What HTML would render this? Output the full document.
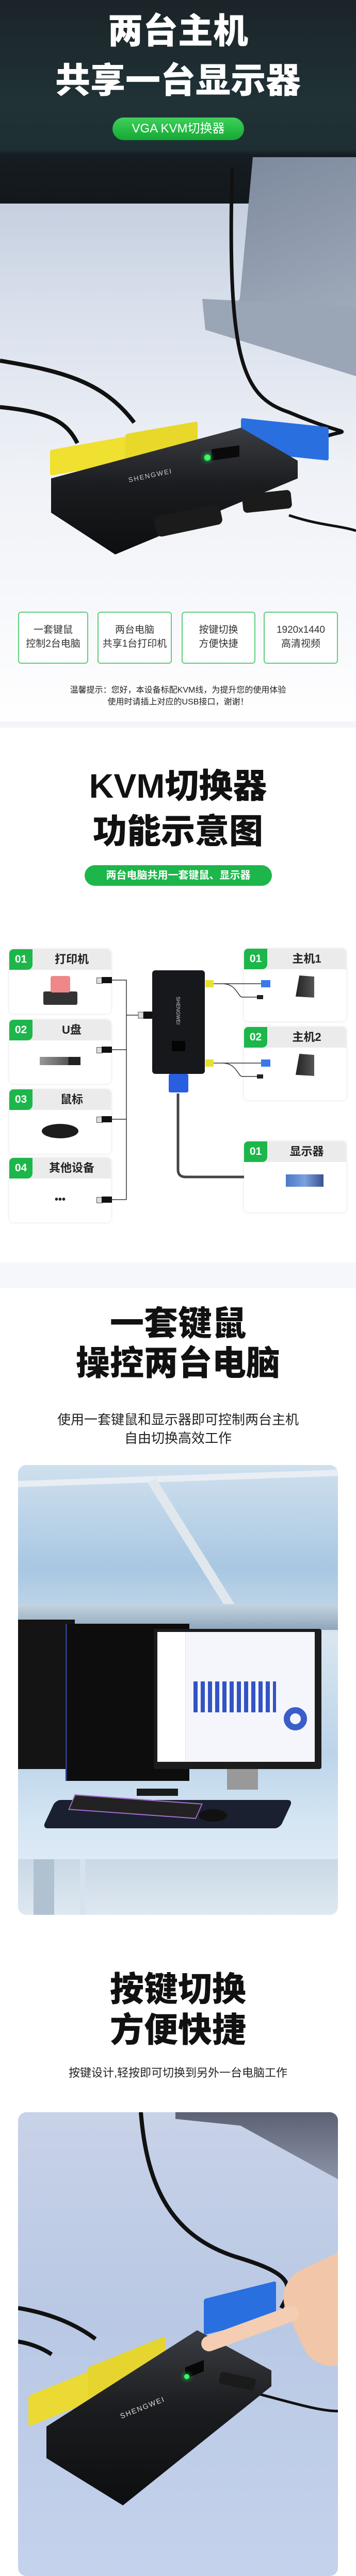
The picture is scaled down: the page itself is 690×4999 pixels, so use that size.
<!DOCTYPE html>
<html><head><meta charset="utf-8"><style>
*{margin:0;padding:0;box-sizing:border-box}
body{width:690px;height:4952px;position:relative;overflow:hidden;background:#fff;font-family:"Liberation Sans","Noto Sans CJK SC",sans-serif}
.a{position:absolute}
.t{position:absolute;left:0;width:690px;text-align:center;font-weight:900;white-space:nowrap}
.fb{position:absolute;top:1187px;height:101px;border:2px solid #5fce7a;border-radius:6px;background:#fff;text-align:center;font-size:19px;color:#333;line-height:27px;padding-top:20px}
.box{position:absolute;background:#fff;border-radius:8px;box-shadow:0 0 6px rgba(0,0,0,.12);overflow:hidden}
.box .h{height:40px;background:#ebebeb;font-size:22px;color:#222;line-height:40px;text-align:center;padding-left:45px;font-weight:bold}
.box .n{position:absolute;left:0;top:0;width:45px;height:40px;background:#1db64a;color:#fff;font-size:21px;font-weight:bold;line-height:40px;text-align:center;border-radius:0 0 10px 0}
.usb{position:absolute;width:30px;height:12px}
.usb:before{content:"";position:absolute;left:0;top:1px;width:10px;height:10px;background:#ddd;border:1px solid #555}
.usb:after{content:"";position:absolute;left:10px;top:0;width:20px;height:12px;background:#111}
</style></head><body>

<!-- HERO -->
<div class="a" style="left:0;top:0;width:690px;height:1420px;background:linear-gradient(180deg,#c5cfdf 390px,#d9e0ec 600px,#eef1f6 900px,#f7f8fb 1180px,#fff 1420px)"></div>
<div class="a" style="left:0;top:0;width:690px;height:395px;background:linear-gradient(180deg,#1b2428 0,#203236 200px,#1e2f33 290px,#161d22 300px,#12181c 395px)"></div>
<div class="a" style="left:440px;top:305px;width:250px;height:420px;background:linear-gradient(160deg,#7c889c,#aab4c4);clip-path:polygon(20% 0,100% 0,100% 100%,0 78%,10% 65%)"></div>
<div class="a" style="left:392px;top:580px;width:298px;height:150px;background:#9aa5b6;clip-path:polygon(0 0,100% 10%,100% 100%,2% 40%)"></div>
<svg class="a" style="left:0;top:300px" width="690" height="800">
<path d="M450 25 C440 400 470 470 560 500 C700 560 680 520 600 560" stroke="#111" stroke-width="7" fill="none"/>
<path d="M0 400 C120 420 200 440 260 520" stroke="#111" stroke-width="8" fill="none"/>
<path d="M0 490 C100 500 130 520 150 560" stroke="#111" stroke-width="8" fill="none"/>
<path d="M560 700 C620 720 660 720 690 730" stroke="#111" stroke-width="5" fill="none"/>
</svg>
<div class="a" style="left:97px;top:860px;width:150px;height:50px;background:#f0e030;transform:skewY(-10deg);border-radius:4px"></div>
<div class="a" style="left:243px;top:830px;width:140px;height:50px;background:#e8d82a;transform:skewY(-10deg);border-radius:4px"></div>
<div class="a" style="left:467px;top:820px;width:170px;height:65px;background:#2a6fe0;transform:skewY(6deg);border-radius:4px"></div>
<div class="a" style="left:99px;top:830px;width:478px;height:246px;background:linear-gradient(180deg,#3a3d42,#1b1c1f 45%,#0d0e10);clip-path:polygon(0 40%,77% 0,100% 26%,100% 40%,26% 100%,0 67%)"></div>
<div class="a" style="left:410px;top:868px;width:54px;height:22px;background:#0a0a0a;transform:skewY(-8deg)"></div>
<div class="a" style="left:396px;top:882px;width:12px;height:12px;border-radius:50%;background:#3f6;box-shadow:0 0 10px #3f6"></div>
<div class="a" style="left:248px;top:915px;color:#ccc;font-size:13px;letter-spacing:2px;transform:rotate(-12deg)">SHENGWEI</div>
<div class="a" style="left:300px;top:990px;width:130px;height:40px;background:#1b1b1b;border-radius:10px;transform:rotate(-12deg)"></div>
<div class="a" style="left:470px;top:955px;width:95px;height:36px;background:#1b1b1b;border-radius:8px;transform:rotate(-6deg)"></div>

<div class="t" style="top:26px;font-size:68px;line-height:70px;color:#fff">两台主机</div>
<div class="t" style="top:122px;font-size:68px;line-height:70px;color:#fff">共享一台显示器</div>
<div class="a" style="left:218px;top:228px;width:255px;height:44px;border-radius:22px;background:linear-gradient(180deg,#3ed05a,#14a834);color:#fff;font-size:24px;line-height:44px;text-align:center">VGA KVM切换器</div>

<div class="fb" style="left:35px;width:136px">一套键鼠<br>控制2台电脑</div>
<div class="fb" style="left:189px;width:144px">两台电脑<br>共享1台打印机</div>
<div class="fb" style="left:352px;width:143px">按键切换<br>方便快捷</div>
<div class="fb" style="left:511px;width:144px">1920x1440<br>高清视频</div>
<div class="t" style="top:1328px;font-size:16px;font-weight:normal;color:#222;line-height:23px">温馨提示：您好，本设备标配KVM线，为提升您的使用体验<br>使用时请插上对应的USB接口，谢谢！</div>

<!-- SECTION 2 -->
<div class="a" style="left:0;top:1400px;width:690px;height:12px;background:#f3f5f9"></div>
<div class="t" style="top:1490px;font-size:66px;line-height:70px;color:#111">KVM切换器</div>
<div class="t" style="top:1578px;font-size:66px;line-height:70px;color:#111">功能示意图</div>
<div class="a" style="left:164px;top:1679px;width:363px;height:40px;border-radius:20px;background:#1db64a;color:#fff;font-size:20px;font-weight:bold;line-height:40px;text-align:center">两台电脑共用一套键鼠、显示器</div>

<div class="box" style="left:18px;top:1842px;width:197px;height:125px"><div class="h">打印机</div><div class="n">01</div>
<div class="a" style="left:66px;top:82px;width:66px;height:26px;background:#333;border-radius:3px"></div><div class="a" style="left:80px;top:52px;width:38px;height:32px;background:#e88;border-radius:4px"></div></div>
<div class="box" style="left:18px;top:1979px;width:197px;height:124px"><div class="h">U盘</div><div class="n">02</div>
<div class="a" style="left:59px;top:72px;width:79px;height:16px;background:linear-gradient(90deg,#999,#555 70%,#222 70%)"></div></div>
<div class="box" style="left:18px;top:2114px;width:197px;height:125px"><div class="h">鼠标</div><div class="n">03</div>
<div class="a" style="left:63px;top:67px;width:71px;height:28px;background:#1c1c1c;border-radius:50%"></div></div>
<div class="box" style="left:18px;top:2247px;width:197px;height:125px"><div class="h">其他设备</div><div class="n">04</div>
<div class="a" style="left:0;top:70px;width:197px;text-align:center;font-size:20px;font-weight:bold;color:#222">•••</div></div>

<div class="box" style="left:473px;top:1841px;width:198px;height:141px"><div class="h">主机1</div><div class="n">01</div>
<div class="a" style="left:100px;top:52px;width:36px;height:43px;background:linear-gradient(90deg,#222,#555);clip-path:polygon(20% 0,100% 5%,100% 100%,0 95%)"></div></div>
<div class="box" style="left:473px;top:1993px;width:198px;height:142px"><div class="h">主机2</div><div class="n">02</div>
<div class="a" style="left:100px;top:52px;width:36px;height:43px;background:linear-gradient(90deg,#222,#555);clip-path:polygon(20% 0,100% 5%,100% 100%,0 95%)"></div></div>
<div class="box" style="left:473px;top:2215px;width:198px;height:138px"><div class="h">显示器</div><div class="n">01</div>
<div class="a" style="left:81px;top:64px;width:73px;height:24px;background:linear-gradient(90deg,#4a7ac8,#7aa0e0,#3a5090)"></div></div>

<svg class="a" style="left:0;top:1830px" width="690" height="560">
<g stroke="#333" stroke-width="1.5" fill="none">
<path d="M216 72 H245 V498 M216 207 H245 M216 342 H245 M216 498 H245 M245 140 H268"/>
<path d="M414 79 H506 M430 79 C460 79 460 105 470 105 H500"/>
<path d="M414 233 H506 M430 233 C460 233 460 259 470 259 H500"/>
</g>
<path d="M345 292 V440 Q345 454 360 454 H473" stroke="#444" stroke-width="5" fill="none"/>
<rect x="295" y="53" width="102" height="201" rx="6" fill="#17181b"/>
<text x="0" y="0" transform="translate(342 104) rotate(90)" fill="#ccc" font-size="10" font-family="Liberation Sans">SHENGWEI</text>
<rect x="333" y="190" width="26" height="20" fill="#050505"/>
<rect x="327" y="254" width="38" height="36" rx="3" fill="#2a5ee0"/>
<rect x="268" y="134" width="10" height="12" fill="#ddd" stroke="#555"/><rect x="278" y="133" width="17" height="14" fill="#111"/>
<rect x="398" y="72" width="16" height="14" fill="#e9e030"/><rect x="398" y="226" width="16" height="14" fill="#e9e030"/>
<rect x="506" y="72" width="18" height="14" fill="#3a7ae8"/><rect x="506" y="226" width="18" height="14" fill="#3a7ae8"/>
<rect x="498" y="101" width="12" height="8" fill="#222"/><rect x="498" y="255" width="12" height="8" fill="#222"/>
</svg>
<div class="usb" style="left:187px;top:1896px"></div>
<div class="usb" style="left:187px;top:2031px"></div>
<div class="usb" style="left:187px;top:2166px"></div>
<div class="usb" style="left:187px;top:2322px"></div>
<div class="a" style="left:0;top:2450px;width:690px;height:50px;background:#f5f7fb"></div>

<!-- SECTION 3 -->
<div class="t" style="top:2533px;font-size:66px;line-height:70px;color:#111">一套键鼠</div>
<div class="t" style="top:2610px;font-size:66px;line-height:70px;color:#111">操控两台电脑</div>
<div class="t" style="top:2737px;font-size:26px;font-weight:normal;line-height:36px;color:#222">使用一套键鼠和显示器即可控制两台主机<br>自由切换高效工作</div>
<div class="a" style="left:35px;top:2843px;width:620px;height:873px;border-radius:16px;overflow:hidden;background:linear-gradient(180deg,#cfe0ee 0,#a9c7e2 200px,#bcd3e6 270px,#d8e6f0 330px,#bcd4ea 560px,#d6e6f4 700px,#e8f0f8 873px)">
 <div class="a" style="left:0;top:20px;width:620px;height:12px;background:#e8eef3;transform:rotate(-2deg)"></div>
 <div class="a" style="left:250px;top:30px;width:18px;height:350px;background:#e0e8ee;transform:rotate(-32deg);transform-origin:top"></div>
 <div class="a" style="left:0;top:270px;width:620px;height:50px;background:linear-gradient(180deg,#c4d4e0,#8ea6ba)"></div>
 <div class="a" style="left:0;top:300px;width:110px;height:290px;background:#141414"></div>
 <div class="a" style="left:92px;top:312px;width:30px;height:282px;background:#0b0b0b;border-right:3px solid #2a3a80"></div>
 <div class="a" style="left:92px;top:308px;width:240px;height:305px;background:#0d0d0d;border-left:3px solid #2a3a80"></div>
 <div class="a" style="left:263px;top:318px;width:325px;height:272px;background:#1c1c1c;border-radius:4px"></div>
 <div class="a" style="left:270px;top:324px;width:305px;height:252px;background:#f4f6fb"></div>
 <div class="a" style="left:270px;top:324px;width:55px;height:252px;background:#fff;border-right:1px solid #e0e4ee"></div>
 <div class="a" style="left:340px;top:420px;width:160px;height:60px;background:repeating-linear-gradient(90deg,#3453c4 0 8px,transparent 8px 14px)"></div>
 <div class="a" style="left:515px;top:470px;width:45px;height:45px;border-radius:50%;border:12px solid #3a5ec8"></div>
 <div class="a" style="left:405px;top:590px;width:60px;height:40px;background:#999"></div>
 <div class="a" style="left:60px;top:650px;width:460px;height:55px;background:#1a2030;border-radius:10px;transform:skewX(-25deg)"></div>
 <div class="a" style="left:100px;top:648px;width:255px;height:30px;background:#222;border:2px solid #a66ad0;transform:skewX(-20deg) rotate(4deg)"></div>
 <div class="a" style="left:350px;top:668px;width:55px;height:24px;background:#111;border-radius:50%"></div>
 <div class="a" style="left:230px;top:628px;width:80px;height:14px;background:#1b1b1b"></div>
 <div class="a" style="left:0;top:765px;width:620px;height:108px;background:linear-gradient(180deg,#c9d8e6,#dfe8f1)"></div>
 <div class="a" style="left:30px;top:765px;width:40px;height:108px;background:#b0c2d2"></div>
 <div class="a" style="left:120px;top:765px;width:10px;height:108px;background:#d6e2ed"></div>
</div>

<!-- SECTION 4 -->
<div class="t" style="top:3825px;font-size:66px;line-height:70px;color:#111">按键切换</div>
<div class="t" style="top:3904px;font-size:66px;line-height:70px;color:#111">方便快捷</div>
<div class="t" style="top:4008px;font-size:22px;font-weight:normal;line-height:30px;color:#222">按键设计,轻按即可切换到另外一台电脑工作</div>
<div class="a" style="left:35px;top:4099px;width:620px;height:900px;border-radius:16px;overflow:hidden;background:linear-gradient(180deg,#c8d2e8,#b9c8e4 400px,#c4d2ec 900px)">
 <div class="a" style="left:305px;top:0;width:315px;height:130px;background:linear-gradient(180deg,#5c6274,#8d93a6);clip-path:polygon(0 0,100% 0,100% 100%,40% 20%,0 10%)"></div>
 <svg class="a" style="left:0;top:0" width="620" height="900">
 <path d="M238 0 C250 150 300 240 420 280 C520 310 540 330 510 380" stroke="#111" stroke-width="8" fill="none"/>
 <path d="M0 380 C60 390 110 410 150 440" stroke="#111" stroke-width="8" fill="none"/>
 <path d="M0 445 C30 450 50 460 65 470" stroke="#111" stroke-width="8" fill="none"/>
 <path d="M440 540 C520 560 580 580 620 580" stroke="#111" stroke-width="5" fill="none"/>
 </svg>
 <div class="a" style="left:20px;top:520px;width:150px;height:60px;background:#ebda33;transform:skewY(-22deg);border-radius:4px"></div>
 <div class="a" style="left:135px;top:465px;width:150px;height:60px;background:#e6d52f;transform:skewY(-22deg);border-radius:4px"></div>
 <div class="a" style="left:360px;top:345px;width:140px;height:70px;background:#2a6fe0;transform:skewY(-14deg);border-radius:4px"></div>
 <div class="a" style="left:55px;top:423px;width:436px;height:340px;background:linear-gradient(180deg,#3a3d42,#1b1c1f 45%,#0d0e10);clip-path:polygon(0 55%,67% 0,100% 23%,100% 32%,34% 100%,0 73%)"></div>
 <div class="a" style="left:324px;top:488px;width:36px;height:22px;background:#070707;transform:skewY(-22deg)"></div>
 <div class="a" style="left:322px;top:508px;width:10px;height:10px;border-radius:50%;background:#3f6;box-shadow:0 0 10px #3f6"></div>
 <div class="a" style="left:195px;top:565px;color:#ddd;font-size:14px;letter-spacing:2px;transform:rotate(-22deg)">SHENGWEI</div>
 <div class="a" style="left:390px;top:510px;width:70px;height:24px;background:#1b1b1b;border-radius:6px;transform:rotate(12deg)"></div>
 <div class="a" style="left:530px;top:290px;width:150px;height:200px;background:#f2c6a8;border-radius:60px 0 0 60px;transform:rotate(-25deg)"></div>
 <div class="a" style="left:350px;top:405px;width:200px;height:30px;background:#f4cdb2;border-radius:15px;transform:rotate(-20deg)"></div>
</div>
</body></html>
